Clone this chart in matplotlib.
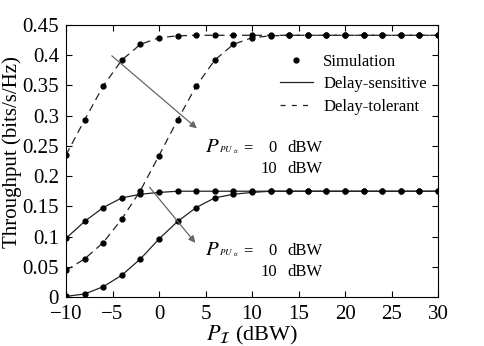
import numpy as np
import matplotlib
matplotlib.use("Agg")
import matplotlib.pyplot as plt

plt.rcParams['font.family'] = ['Liberation Serif', 'DejaVu Serif']
plt.rcParams['mathtext.fontset'] = 'stix'

# data
p_i = np.arange(-10, 31, 2)
tol_0dbw = [0.235, 0.293, 0.349, 0.392, 0.418, 0.429, 0.432] + [0.433] * 14
tol_10dbw = [0.044, 0.063, 0.090, 0.129, 0.176, 0.234, 0.293, 0.349, 0.392, 0.418, 0.429, 0.432] + [0.433] * 9
sen_0dbw = [0.097, 0.125, 0.148, 0.164, 0.170, 0.173] + [0.175] * 15
sen_10dbw = [0.001, 0.005, 0.017, 0.036, 0.063, 0.096, 0.125, 0.148, 0.164, 0.170, 0.173] + [0.175] * 10

fig = plt.figure(figsize=(4.84, 3.46), dpi=100)
ax = fig.add_axes([66/484, 1-297/346, 372/484, 272/346])

lc = '#222222'
for y in [tol_0dbw, tol_10dbw]:
    ax.plot(p_i, y, color=lc, lw=0.9, ls=(0, (6, 4)))
for y in [sen_0dbw, sen_10dbw]:
    ax.plot(p_i, y, color=lc, lw=0.9, ls='-')
for y in [tol_0dbw, tol_10dbw, sen_0dbw, sen_10dbw]:
    ax.plot(p_i, y, ls='none', marker='o', ms=3.5, color='black')

# legend handles
h1, = ax.plot([], [], ls='none', marker='o', ms=3.5, color='black')
h2, = ax.plot([], [], color=lc, lw=0.9)
h3, = ax.plot([], [], color=lc, lw=0.9, ls=(0, (4, 5)))
ax.legend([h1, h2, h3], ['Simulation', 'Delay-sensitive', 'Delay-tolerant'],
          loc='upper right', bbox_to_anchor=(1.01, 0.95), frameon=False,
          fontsize=12, handlelength=2.0, handletextpad=0.6, labelspacing=0.4)

# arrows
ax.annotate('', xy=(4.3, 0.276), xytext=(-5.3, 0.402),
            arrowprops=dict(arrowstyle='-|>', color='#666666', lw=0.9))
ax.annotate('', xy=(4.1, 0.086), xytext=(-1.2, 0.185),
            arrowprops=dict(arrowstyle='-|>', color='#666666', lw=0.9))

# P_PUtx = 0 dBW / 10 dBW labels
for yy in [0.240, 0.0695]:
    ax.text(4.95, yy, r'$P$', fontsize=15, va='baseline')
    ax.text(6.45, yy, r'$PU$', fontsize=6.5, va='baseline')
    ax.text(7.95, yy - 0.002, r'$tx$', fontsize=4.5, va='baseline')
    ax.text(9.0, yy, '=', fontsize=12, va='baseline')
    ax.text(12.7, yy, '0', fontsize=12, va='baseline', ha='right')
    ax.text(13.8, yy, 'dBW', fontsize=12, va='baseline')
    ax.text(12.7, yy - 0.035, '10', fontsize=12, va='baseline', ha='right')
    ax.text(13.8, yy - 0.035, 'dBW', fontsize=12, va='baseline')

ax.set_xlim(-10, 30)
ax.set_ylim(0, 0.45)
ax.set_xticks(np.arange(-10, 31, 5))
ax.set_yticks(np.arange(0, 0.451, 0.05))
ax.set_yticklabels(['0', '0.05', '0.1', '0.15', '0.2', '0.25', '0.3', '0.35', '0.4', '0.45'])
ax.set_xticklabels(['\u221210', '\u22125', '0', '5', '10', '15', '20', '25', '30'])
ax.tick_params(direction='in', top=True, right=True, labelsize=15, length=4)
ax.tick_params(axis='y', pad=5)
ax.tick_params(axis='x', pad=6)
ax.set_xlabel(r'$P_\mathcal{I}$ (dBW)', fontsize=16, labelpad=0)
ax.set_ylabel('Throughput (bits/s/Hz)', fontsize=15)
ax.yaxis.set_label_coords(-0.118, 0.533)

fig.savefig('out.png', dpi=100)
